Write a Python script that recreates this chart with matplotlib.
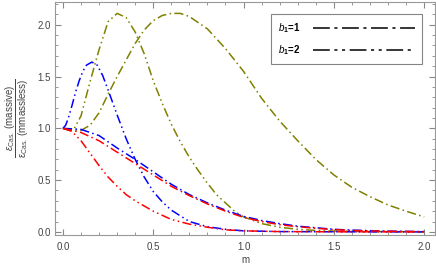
import numpy as np
import matplotlib
matplotlib.use("Agg")
import matplotlib.pyplot as plt
from matplotlib.lines import Line2D
from matplotlib.ticker import MultipleLocator, FormatStrFormatter

plt.rcParams['font.family'] = ['Liberation Sans', 'DejaVu Sans']
plt.rcParams['mathtext.fontset'] = 'custom'
plt.rcParams['mathtext.rm'] = 'Liberation Sans'
plt.rcParams['mathtext.it'] = 'Liberation Sans:italic'
plt.rcParams['mathtext.bf'] = 'Liberation Sans:bold'

# values
m_olive1 = [0, 0.05, 0.1, 0.15, 0.2, 0.25, 0.3, 0.35, 0.4, 0.45, 0.5, 0.55, 0.6, 0.65,
            0.7, 0.8, 0.9, 1.0, 1.1, 1.2, 1.3, 1.4, 1.5, 1.6, 1.7, 1.8, 1.9, 2.0]
v_olive1 = [1.0, 0.985, 0.98, 1.03, 1.15, 1.33, 1.50, 1.66, 1.82, 1.95, 2.04, 2.09, 2.11, 2.11,
            2.08, 1.96, 1.77, 1.55, 1.29, 1.07, 0.88, 0.70, 0.55, 0.43, 0.34, 0.26, 0.20, 0.145]

m_olive2 = [0, 0.03, 0.06, 0.1, 0.15, 0.2, 0.25, 0.3, 0.35, 0.4, 0.45, 0.5, 0.55, 0.6, 0.65,
            0.7, 0.75, 0.8, 0.85, 0.9, 0.95, 1.0, 1.1, 1.2, 1.3, 1.4, 1.5, 1.7, 2.0]
v_olive2 = [1.0, 0.985, 0.99, 1.12, 1.45, 1.76, 2.03, 2.11, 2.07, 1.93, 1.72, 1.46, 1.24, 1.04, 0.87,
            0.72, 0.59, 0.47, 0.36, 0.28, 0.20, 0.145, 0.08, 0.045, 0.025, 0.014, 0.008, 0.003, 0.001]

m_blue1 = [0, 0.1, 0.2, 0.3, 0.4, 0.5, 0.6, 0.7, 0.8, 0.9, 1.0, 1.1, 1.2, 1.3, 1.4,
           1.5, 1.6, 1.8, 2.0]
v_blue1 = [1.0, 0.99, 0.93, 0.81, 0.70, 0.58, 0.46, 0.36, 0.28, 0.21, 0.15, 0.11, 0.08, 0.055, 0.04,
           0.025, 0.017, 0.007, 0.003]

m_blue2 = [0, 0.015, 0.03, 0.05, 0.07, 0.09, 0.11, 0.13, 0.16, 0.19, 0.22, 0.25, 0.3, 0.35,
           0.4, 0.45, 0.5, 0.55, 0.6, 0.7, 0.8, 0.9, 1.0, 1.2, 1.5, 2.0]
v_blue2 = [1.0, 1.03, 1.10, 1.22, 1.35, 1.46, 1.55, 1.61, 1.64, 1.61, 1.51, 1.37, 1.13, 0.90,
           0.70, 0.53, 0.39, 0.29, 0.21, 0.10, 0.05, 0.025, 0.01, 0.003, 0.001, 0.0]

m_red1 = [0, 0.1, 0.2, 0.3, 0.4, 0.5, 0.6, 0.7, 0.8, 0.9, 1.0, 1.1, 1.2, 1.3, 1.4,
          1.5, 1.6, 1.8, 2.0]
v_red1 = [1.0, 0.96, 0.88, 0.77, 0.66, 0.55, 0.44, 0.35, 0.27, 0.20, 0.14, 0.10, 0.07, 0.05, 0.035,
          0.022, 0.014, 0.006, 0.002]

m_red2 = [0, 0.05, 0.1, 0.15, 0.2, 0.25, 0.3, 0.35, 0.4, 0.5, 0.6, 0.7, 0.8, 0.9, 1.0,
          1.2, 1.5, 2.0]
v_red2 = [1.0, 0.97, 0.88, 0.76, 0.64, 0.53, 0.44, 0.36, 0.30, 0.20, 0.12, 0.075, 0.045, 0.02, 0.01,
          0.003, 0.001, 0.0]

olive = '#808000'
dash1 = [6, 2.2, 1, 2.2]           # b1=1 : dash dot
dash2 = [6, 2.2, 1, 2.2, 1, 2.2]   # b1=2 : dash dot dot

fig = plt.figure(figsize=(4.36, 2.65), dpi=100)
ax = fig.add_axes([55 / 436, 1 - 235 / 265, 380 / 436, 233 / 265])

curves = [
    (m_olive1, v_olive1, olive, dash1),
    (m_olive2, v_olive2, olive, dash2),
    (m_blue1, v_blue1, 'blue', dash1),
    (m_blue2, v_blue2, 'blue', dash2),
    (m_red1, v_red1, 'red', dash1),
    (m_red2, v_red2, 'red', dash2),
]
for m, v, c, d in curves:
    ln, = ax.plot(m, v, color=c, lw=1.1)
    ln.set_dashes(d)

ax.set_xlim(-0.044, 2.06)
ax.set_ylim(-0.03, 2.22)
ax.xaxis.set_major_locator(MultipleLocator(0.5))
ax.xaxis.set_minor_locator(MultipleLocator(0.1))
ax.yaxis.set_major_locator(MultipleLocator(0.5))
ax.yaxis.set_minor_locator(MultipleLocator(0.1))
ax.xaxis.set_major_formatter(FormatStrFormatter('%.1f'))
ax.yaxis.set_major_formatter(FormatStrFormatter('%.1f'))
ax.tick_params(which='both', direction='in', top=True, right=True, color='#888888',
               labelsize=7, labelcolor='#444444')
ax.tick_params(axis='x', pad=5)
ax.tick_params(axis='y', pad=3)
ax.tick_params(which='major', length=4, width=0.8)
ax.tick_params(which='minor', length=2, width=0.6)
for s in ax.spines.values():
    s.set_color('#999999')
    s.set_linewidth(0.8)

ax.set_xlabel('m', fontsize=7, color='#444444', labelpad=2)
ax.set_ylabel(r'$\dfrac{\epsilon_{\rm Cas.}\ \rm(massive)}{\epsilon_{\rm Cas.}\ \rm(mmassless)}$',
              fontsize=7, color='#444444', labelpad=5)

h1 = Line2D([], [], color='black', lw=1.1, dashes=[11, 3, 2, 3])
h2 = Line2D([], [], color='black', lw=1.1, dashes=[11, 3, 2, 3, 2, 3])
leg = ax.legend([h1, h2], [r'$\mathbf{\mathit{b}_1}$=1', r'$\mathbf{\mathit{b}_1}$=2'],
                loc='upper right', bbox_to_anchor=(0.966, 0.948), fontsize=7,
                handlelength=10.5, frameon=True, fancybox=False, borderpad=0.7,
                labelspacing=0.85, markerfirst=False, handletextpad=1.3,
                borderaxespad=0)
leg.get_frame().set_edgecolor('#666666')
leg.get_frame().set_linewidth(0.8)
for t in leg.get_texts():
    t.set_fontweight('bold')

fig.savefig('out.png', dpi=100)
